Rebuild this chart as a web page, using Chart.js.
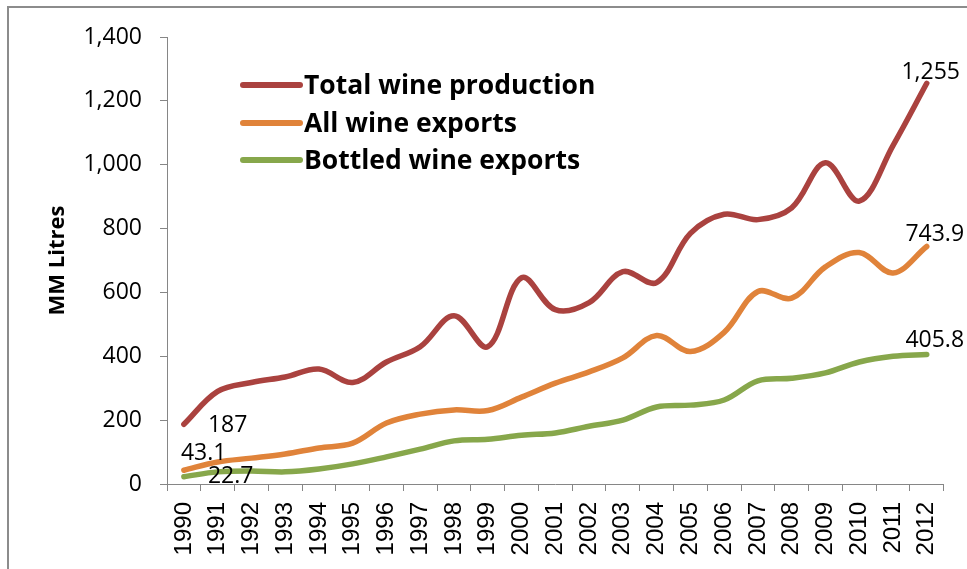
<!DOCTYPE html>
<html>
<head>
<meta charset="utf-8">
<script src="https://cdn.jsdelivr.net/npm/chart.js@4"></script>
<style>
  html, body { margin: 0; padding: 0; background: #ffffff; }
  #wrap { width: 967px; height: 569px; position: relative; }
</style>
</head>
<body>
<div id="wrap"><canvas id="chart" width="967" height="569"></canvas></div>
<script>
// Wine volumes, million litres, 1990-2012
const years = ['1990','1991','1992','1993','1994','1995','1996','1997','1998','1999','2000',
               '2001','2002','2003','2004','2005','2006','2007','2008','2009','2010','2011','2012'];
const totalProduction = [187, 290, 318, 335, 360, 318, 382, 430, 527, 430, 646, 546, 568, 665, 631,
                         785, 845, 828, 865, 1006, 886, 1060, 1255];
const allExports = [43.1, 69, 81, 94, 113, 128, 191, 219, 232, 230, 272, 316, 351, 395, 465,
                    415, 475, 603, 582, 680, 725, 661, 743.9];
const bottledExports = [22.7, 38, 41, 38, 47, 63, 85, 109, 135, 140, 153, 160, 181, 200, 241,
                        247, 263, 323, 331, 348, 382, 400, 405.8];
const yTicks = [0, 200, 400, 600, 800, 1000, 1200, 1400];

const seriesNames = ['Total wine production', 'All wine exports', 'Bottled wine exports'];
const seriesColors = ['#AA423F', '#E0833A', '#87A74B'];

const numFmt = new Intl.NumberFormat('en-US', { maximumFractionDigits: 1 });
const bodyFont = '"Open Sans", "Noto Sans", sans-serif';

// Value labels on the first and last point of each series
const valueLabels = [
  { ds: 0, idx: 0,  dx: 24, dy: 1,   align: 'left' },
  { ds: 0, idx: 22, dx: 4,  dy: -11, align: 'center' },
  { ds: 1, idx: 0,  dx: -3, dy: -17, align: 'left' },
  { ds: 1, idx: 22, dx: 8,  dy: -12, align: 'center' },
  { ds: 2, idx: 0,  dx: 24, dy: 0,   align: 'left' },
  { ds: 2, idx: 22, dx: 8,  dy: -14, align: 'center' }
];

const framePlugin = {
  id: 'frame',
  beforeDraw(chart) {
    const ctx = chart.ctx;
    ctx.save();
    ctx.strokeStyle = '#8c8c8c';
    ctx.lineWidth = 2;
    ctx.beginPath();
    ctx.moveTo(8, chart.height);
    ctx.lineTo(8, 7);
    ctx.lineTo(chart.width, 7);
    ctx.stroke();
    ctx.restore();
  }
};

const labelPlugin = {
  id: 'valueLabels',
  afterDatasetsDraw(chart) {
    const ctx = chart.ctx;
    ctx.save();
    ctx.fillStyle = '#000000';
    ctx.font = '23px ' + bodyFont;
    ctx.textBaseline = 'middle';
    valueLabels.forEach(l => {
      const pt = chart.getDatasetMeta(l.ds).data[l.idx];
      const v = chart.data.datasets[l.ds].data[l.idx];
      ctx.textAlign = l.align;
      ctx.fillText(numFmt.format(v), pt.x + l.dx, pt.y + l.dy);
    });
    ctx.restore();
  }
};

const legendPlugin = {
  id: 'lineLegend',
  afterDraw(chart) {
    const ctx = chart.ctx;
    const a = chart.chartArea;
    const x0 = a.left + 76;
    const rows = [48, 86, 123];
    ctx.save();
    ctx.font = 'bold 26.5px ' + bodyFont;
    ctx.textBaseline = 'middle';
    ctx.textAlign = 'left';
    chart.data.datasets.forEach((ds, i) => {
      const y = a.top + rows[i];
      ctx.strokeStyle = ds.borderColor;
      ctx.lineWidth = 6;
      ctx.lineCap = 'round';
      ctx.beginPath();
      ctx.moveTo(x0, y);
      ctx.lineTo(x0 + 57, y);
      ctx.stroke();
      ctx.fillStyle = '#000000';
      ctx.fillText(ds.label, x0 + 61, y + 1);
    });
    ctx.restore();
  }
};

const makeSet = (i, data) => ({
  label: seriesNames[i],
  data: data,
  borderColor: seriesColors[i],
  backgroundColor: seriesColors[i],
  borderWidth: 5.5,
  borderCapStyle: 'round',
  borderJoinStyle: 'round',
  pointRadius: 0,
  pointHoverRadius: 0,
  tension: 0.36,
  fill: false
});

new Chart(document.getElementById('chart'), {
  type: 'line',
  data: {
    labels: years,
    datasets: [
      makeSet(0, totalProduction),
      makeSet(1, allExports),
      makeSet(2, bottledExports)
    ]
  },
  options: {
    responsive: false,
    animation: false,
    devicePixelRatio: 1,
    layout: { padding: { top: 37, right: 21, bottom: 0, left: 0 } },
    plugins: {
      legend: { display: false },
      tooltip: { enabled: false },
      title: { display: false }
    },
    scales: {
      x: {
        type: 'category',
        offset: true,
        afterFit(scale) { scale.height = 85; },
        grid: {
          offset: true,
          drawOnChartArea: false,
          drawTicks: true,
          tickLength: 7,
          color: '#868686'
        },
        border: { display: true, color: '#868686', width: 1 },
        ticks: {
          autoSkip: false,
          maxRotation: 90,
          minRotation: 90,
          padding: 11,
          color: '#000000',
          font: { family: '"Liberation Sans", Arial, sans-serif', size: 24 }
        }
      },
      y: {
        min: 0,
        max: 1400,
        afterFit(scale) { scale.width = 167; },
        afterBuildTicks(scale) { scale.ticks = yTicks.map(v => ({ value: v })); },
        grid: {
          drawOnChartArea: false,
          drawTicks: true,
          tickLength: 7,
          color: '#868686'
        },
        border: { display: true, color: '#868686', width: 1 },
        title: {
          display: true,
          text: 'MM Litres',
          color: '#000000',
          font: { family: bodyFont, size: 22, weight: 'bold' },
          padding: { top: 45, bottom: 0 }
        },
        ticks: {
          padding: 18,
          color: '#000000',
          font: { family: bodyFont, size: 23 },
          callback: (v) => numFmt.format(v)
        }
      }
    }
  },
  plugins: [framePlugin, labelPlugin, legendPlugin]
});
</script>
</body>
</html>
